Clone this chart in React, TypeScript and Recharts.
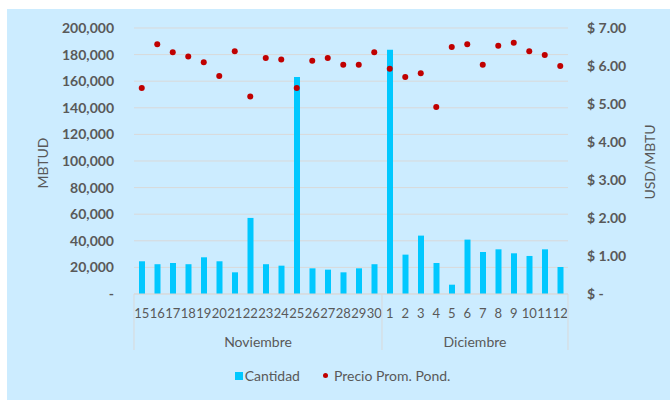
import React from 'react';
import {
  ComposedChart,
  Bar,
  Line,
  XAxis,
  YAxis,
  CartesianGrid,
  Legend,
} from 'recharts';

const DAYS = [
  '15', '16', '17', '18', '19', '20', '21', '22', '23', '24', '25', '26', '27', '28', '29', '30',
  '1', '2', '3', '4', '5', '6', '7', '8', '9', '10', '11', '12',
];

const MONTHS = [
  { name: 'Noviembre', count: 16 },
  { name: 'Diciembre', count: 12 },
];

const CANTIDAD = [
  24600, 22400, 23300, 22400, 27600, 24600, 16300, 57200, 22400, 21300, 163100, 19300, 18300, 16300, 19300, 22400,
  183700, 29600, 43900, 23300, 7000, 40900, 31600, 33600, 30600, 28600, 33600, 20300,
];

const PRECIO = [
  5.42, 6.57, 6.36, 6.25, 6.1, 5.74, 6.39, 5.2, 6.21, 6.17, 5.42, 6.14, 6.21, 6.03, 6.03, 6.36,
  5.93, 5.71, 5.81, 4.92, 6.5, 6.57, 6.03, 6.53, 6.61, 6.39, 6.29, 6.0,
];

const LEFT_TICKS = [0, 20000, 40000, 60000, 80000, 100000, 120000, 140000, 160000, 180000, 200000];
const RIGHT_TICKS = [0, 1, 2, 3, 4, 5, 6, 7];

const data = DAYS.map((day, i) => ({ day, cantidad: CANTIDAD[i], precio: PRECIO[i] }));

const FONT = 'Lato, "Liberation Sans", sans-serif';
const TEXT = '#595959';
const BAR_COLOR = '#00C8FF';
const DOT_COLOR = '#C00000';
const GRID = '#D9D9D9';

const W = 663;
const H = 391;
const TOP = 19;
const LEFT_W = 127;
const RIGHT_W = 102;
const DAY_AXIS_H = 30;
const MONTH_AXIS_H = 27;
const LEGEND_H = 49;
const PLOT_W = W - LEFT_W - RIGHT_W;
const PLOT_BOTTOM = H - DAY_AXIS_H - MONTH_AXIS_H - LEGEND_H;
const BAND = PLOT_W / DAYS.length;

// month group boundaries, by index in DAYS
const groupStarts = MONTHS.reduce<number[]>((acc, m, i) => {
  acc.push(i === 0 ? 0 : acc[i - 1] + MONTHS[i - 1].count);
  return acc;
}, []);

const MonthTick = (props: any) => {
  const { x, index } = props;
  const g = groupStarts.indexOf(index);
  const lineBottom = PLOT_BOTTOM + 56;
  const parts: React.ReactNode[] = [];
  if (g >= 0) {
    const left = x - BAND / 2;
    parts.push(
      <line key="l" x1={left} x2={left} y1={PLOT_BOTTOM} y2={lineBottom} stroke={GRID} />
    );
    parts.push(
      <text
        key="t"
        x={left + (MONTHS[g].count * BAND) / 2}
        y={PLOT_BOTTOM + 53}
        textAnchor="middle"
        fill={TEXT}
        fontSize={14}
        fontFamily={FONT}
      >
        {MONTHS[g].name}
      </text>
    );
  }
  if (index === DAYS.length - 1) {
    const right = x + BAND / 2;
    parts.push(
      <line key="r" x1={right} x2={right} y1={PLOT_BOTTOM} y2={lineBottom} stroke={GRID} />
    );
  }
  return <g>{parts}</g>;
};

const renderLegend = (props: any) => {
  const payload = props.payload || [];
  return (
    <div
      style={{
        height: LEGEND_H,
        display: 'flex',
        alignItems: 'center',
        justifyContent: 'center',
        paddingLeft: 8,
        fontFamily: FONT,
        fontSize: 14,
        color: TEXT,
      }}
    >
      {payload.map((p: any, i: number) => (
        <span
          key={p.value}
          style={{ display: 'flex', alignItems: 'center', marginLeft: i === 0 ? 0 : 23 }}
        >
          {p.type === 'square' ? (
            <span style={{ width: 8, height: 8, background: BAR_COLOR, marginRight: 2 }} />
          ) : (
            <span
              style={{ width: 5, height: 5, borderRadius: '50%', background: DOT_COLOR, marginRight: 6 }}
            />
          )}
          {p.value}
        </span>
      ))}
    </div>
  );
};

const leftFormat = (v: number) => (v === 0 ? '-' : v.toLocaleString('en-US'));
const rightFormat = (v: number) => (v === 0 ? '$ -' : `$ ${v.toFixed(2)}`);

export default function App() {
  return (
    <div style={{ position: 'absolute', left: 7, top: 9, width: W, height: H, background: '#CCECFF' }}>
      <ComposedChart width={W} height={H} data={data} margin={{ top: TOP, right: 0, left: 0, bottom: 0 }}>
        <CartesianGrid yAxisId="left" vertical={false} stroke={GRID} />
        <XAxis
          dataKey="day"
          height={DAY_AXIS_H}
          interval={0}
          tickLine={false}
          tickSize={0}
          tickMargin={15}
          axisLine={{ stroke: GRID }}
          tick={{ fill: TEXT, fontSize: 13, fontFamily: FONT }}
        />
        <XAxis
          xAxisId="month"
          dataKey="day"
          height={MONTH_AXIS_H}
          interval={0}
          tickLine={false}
          axisLine={false}
          tick={<MonthTick />}
        />
        <YAxis
          yAxisId="left"
          width={LEFT_W}
          domain={[0, 200000]}
          ticks={LEFT_TICKS}
          tickFormatter={leftFormat}
          axisLine={false}
          tickLine={false}
          tickSize={0}
          tickMargin={20}
          tick={{ fill: TEXT, fontSize: 14, fontWeight: 'bold', fontFamily: FONT }}
          label={{
            content: () => (
              <text
                x={35.5}
                y={154}
                transform="rotate(-90 35.5 154)"
                textAnchor="middle"
                dominantBaseline="central"
                fill={TEXT}
                fontSize={14}
                fontFamily={FONT}
              >
                MBTUD
              </text>
            ),
          }}
        />
        <YAxis
          yAxisId="right"
          orientation="right"
          width={RIGHT_W}
          domain={[0, 7]}
          ticks={RIGHT_TICKS}
          tickFormatter={rightFormat}
          axisLine={false}
          tickLine={false}
          tickSize={0}
          tickMargin={19}
          tick={{ fill: TEXT, fontSize: 14, fontWeight: 'bold', fontFamily: FONT }}
          label={{
            content: () => (
              <text
                x={642}
                y={153}
                transform="rotate(-90 642 153)"
                textAnchor="middle"
                dominantBaseline="central"
                fill={TEXT}
                fontSize={14}
                fontFamily={FONT}
              >
                USD/MBTU
              </text>
            ),
          }}
        />
        <Bar
          yAxisId="left"
          dataKey="cantidad"
          name="Cantidad"
          fill={BAR_COLOR}
          barSize={6}
          legendType="square"
          isAnimationActive={false}
        />
        <Line
          yAxisId="right"
          dataKey="precio"
          name="Precio Prom. Pond."
          stroke="none"
          dot={{ r: 3, fill: DOT_COLOR, stroke: 'none' }}
          activeDot={false}
          legendType="circle"
          isAnimationActive={false}
        />
        <Legend verticalAlign="bottom" height={LEGEND_H} content={renderLegend} />
      </ComposedChart>
    </div>
  );
}
